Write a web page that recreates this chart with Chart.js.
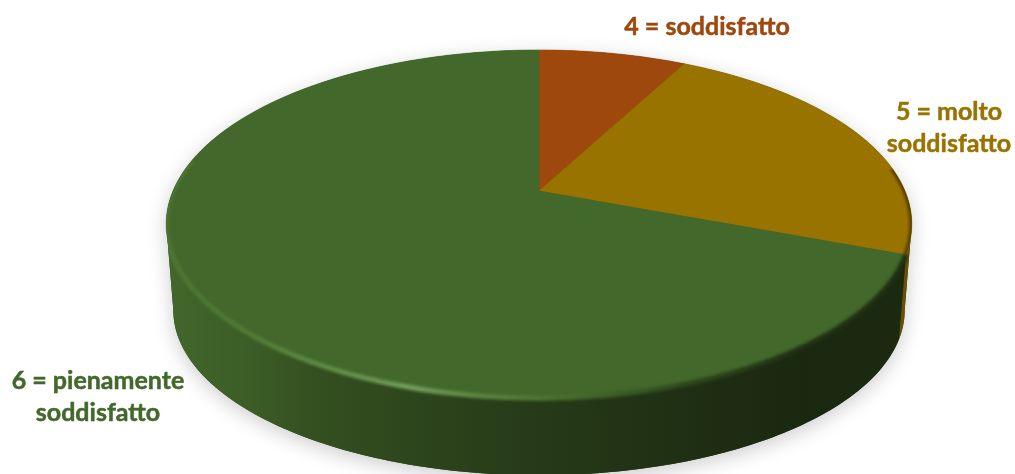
<!DOCTYPE html>
<html lang="it">
<head>
    <meta charset="UTF-8">
    <title>Soddisfazione</title>
    <script src="https://cdn.jsdelivr.net/npm/chart.js"></script>
    <style>
        html, body { margin: 0; padding: 0; background: #fff; overflow: hidden; }
        canvas { display: block; }
    </style>
</head>
<body>
    <canvas id="pie" width="1015" height="474"></canvas>

    <script>
        const categories = [['4 = soddisfatto'], ['5 = molto', 'soddisfatto'], ['6 = pienamente', 'soddisfatto']];
        const values = [1, 3, 9];
        const sliceColors = ['#9E480E', '#997300', '#43682B'];
        const wallColors = ['#5a2a08', '#6b5000', null];
        const labelCenters = [[707, 27], [949, 112], [98, 381]];

        // the view of the tilted disc, fitted on the picture
        const view = { x: 539, y: 191, a: 366, b: 167.8, p: 0.19, wallDrop: 88, wallA: 359, wallB: 159 };
        // where the rim turns away from the viewer, left and right
        const sideAngle = Math.acos(-view.p);

        // angle = clockwise from the top of the disc
        function topPoint(angle) {
            const X = Math.sin(angle), Z = -Math.cos(angle), w = 1 - view.p * Z;
            return [view.x + view.a * X / w, view.y + view.b * Z / w];
        }
        function bottomPoint(angle) {
            const X = Math.sin(angle), Z = -Math.cos(angle), w = 1 - view.p * Z;
            return [view.x + view.wallA * X / w, view.y + view.wallDrop + view.wallB * Z / w];
        }
        function trace(ctx, fn, from, to) {
            const steps = Math.max(2, Math.ceil(Math.abs(to - from) * 60));
            for (let i = 0; i <= steps; i++) {
                const p = fn(from + (to - from) * i / steps);
                ctx.lineTo(p[0], p[1]);
            }
        }
        function horizontal(ctx, stops) {
            const g = ctx.createLinearGradient(166, 0, 912, 0);
            stops.forEach(s => g.addColorStop(s[0], s[1]));
            return g;
        }
        function silhouette(ctx) {
            ctx.beginPath();
            trace(ctx, topPoint, 2 * Math.PI - sideAngle, 2 * Math.PI + sideAngle);
            trace(ctx, bottomPoint, sideAngle, 2 * Math.PI - sideAngle);
            ctx.closePath();
        }

        const pie3d = {
            id: 'pie3d',
            beforeDatasetsDraw(chart) {
                const ctx = chart.ctx;
                const arcs = chart.getDatasetMeta(0).data.map(a => ({
                    start: a.startAngle + Math.PI / 2,
                    end: a.endAngle + Math.PI / 2
                }));

                // soft shadow on the paper
                ctx.save();
                ctx.shadowColor = 'rgba(0,0,0,0.2)';
                ctx.shadowBlur = 20;
                ctx.shadowOffsetY = 5;
                ctx.fillStyle = '#2c441b';
                silhouette(ctx);
                ctx.fill();
                ctx.restore();

                // side walls, front part only
                const greenWall = horizontal(ctx, [
                    [0, '#42672b'], [0.12, '#3b5c26'], [0.2, '#344f20'], [0.35, '#2c441b'],
                    [0.5, '#263a18'], [0.7, '#1f2f13'], [0.85, '#1b2810'], [1, '#1c2a12']
                ]);
                arcs.forEach((arc, i) => {
                    const from = Math.max(arc.start, sideAngle);
                    const to = Math.min(arc.end, 2 * Math.PI - sideAngle);
                    if (to <= from) return;
                    ctx.beginPath();
                    trace(ctx, topPoint, from, to);
                    trace(ctx, bottomPoint, to, from);
                    ctx.closePath();
                    ctx.fillStyle = wallColors[i] || greenWall;
                    ctx.fill();
                });

                // top face
                arcs.forEach((arc, i) => {
                    ctx.beginPath();
                    ctx.moveTo(view.x, view.y);
                    trace(ctx, topPoint, arc.start, arc.end);
                    ctx.closePath();
                    ctx.fillStyle = sliceColors[i];
                    ctx.fill();
                    ctx.strokeStyle = sliceColors[i];
                    ctx.lineWidth = 0.6;
                    ctx.stroke();
                });

                // bevel along the rim, kept inside the pie
                const green = arcs[2], gold = arcs[1];
                ctx.save();
                silhouette(ctx);
                ctx.clip();
                ctx.filter = 'blur(1.8px)';
                ctx.lineWidth = 5;
                ctx.strokeStyle = horizontal(ctx, [
                    [0, '#4c7633'], [0.1, '#4e7a35'], [0.22, '#5f8d47'], [0.33, '#729f5b'], [0.42, '#5a8541'],
                    [0.55, '#436a2b'], [0.68, '#2e4a1e'], [0.85, '#1f3014'], [1, '#1f3014']
                ]);
                ctx.beginPath();
                trace(ctx, topPoint, green.start, Math.PI * 1.56);
                ctx.stroke();
                ctx.restore();

                // dark edge on the gold slice
                ctx.save();
                ctx.beginPath();
                ctx.moveTo(view.x, view.y);
                trace(ctx, topPoint, gold.start, gold.end);
                ctx.closePath();
                ctx.clip();
                ctx.filter = 'blur(1.5px)';
                ctx.lineWidth = 5;
                ctx.strokeStyle = 'rgba(60,42,0,0.75)';
                ctx.beginPath();
                trace(ctx, topPoint, gold.start + 0.95, gold.end);
                ctx.stroke();
                ctx.restore();

                // labels
                ctx.save();
                ctx.font = 'bold 25px Lato, "Open Sans", sans-serif';
                ctx.textAlign = 'center';
                ctx.textBaseline = 'middle';
                ctx.lineWidth = 0.5;
                categories.forEach((lines, i) => {
                    ctx.fillStyle = sliceColors[i];
                    ctx.strokeStyle = sliceColors[i];
                    lines.forEach((line, n) => {
                        ctx.fillText(line, labelCenters[i][0], labelCenters[i][1] + n * 32);
                        ctx.strokeText(line, labelCenters[i][0], labelCenters[i][1] + n * 32);
                    });
                });
                ctx.restore();

                return false;
            }
        };

        new Chart(document.getElementById('pie'), {
            type: 'pie',
            data: {
                labels: categories,
                datasets: [{ data: values, backgroundColor: sliceColors, borderWidth: 0 }]
            },
            options: {
                responsive: false,
                animation: false,
                plugins: { legend: { display: false }, tooltip: { enabled: false } }
            },
            plugins: [pie3d]
        });
    </script>
</body>
</html>
